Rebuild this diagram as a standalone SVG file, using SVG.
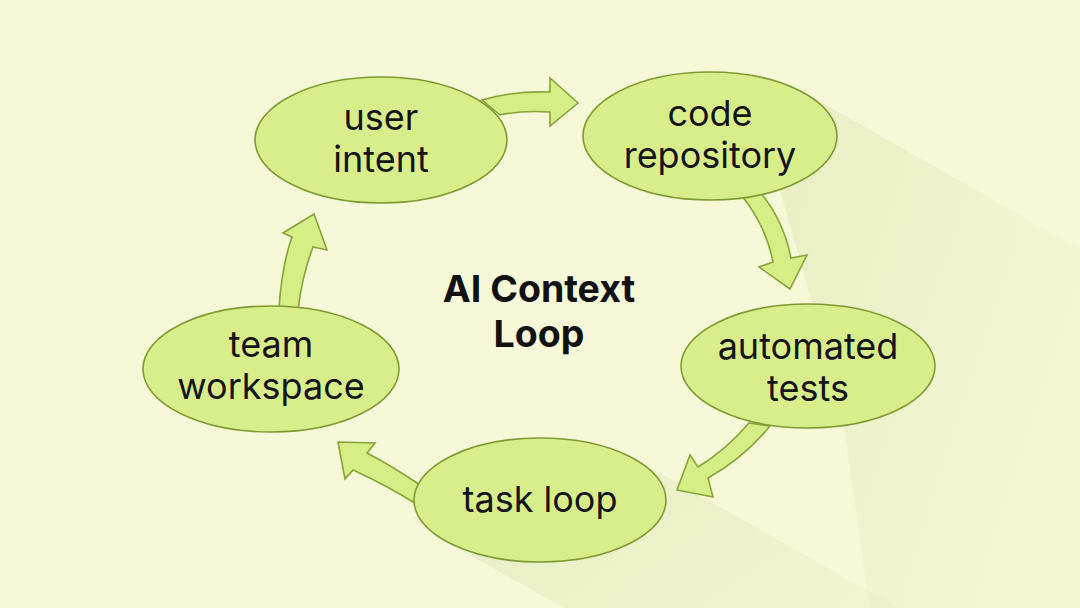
<svg xmlns="http://www.w3.org/2000/svg" width="1080" height="608" viewBox="0 0 1080 608">
  <defs>
    <style>
      .bg { fill: #f6f8d7; }
      .node ellipse { fill: #d8ee8a; stroke: #7e9a32; stroke-width: 1.6; }
      .label { font-family: Inter, "Noto Sans", "Liberation Sans", sans-serif; font-size: 36px; fill: #141414; text-anchor: middle; }
      .title { font-family: Inter, "Liberation Sans", sans-serif; font-size: 37.5px; font-weight: 700; fill: #111111; text-anchor: middle; }
      .arrow { fill: #d5ee86; stroke: #86a43a; stroke-width: 1.6; stroke-linejoin: miter; }
      .shadow { fill: url(#shadeGrad); }
    </style>
    <linearGradient id="shadeGrad" x1="0" y1="0" x2="1" y2="0.56" gradientUnits="objectBoundingBox">
      <stop offset="0" stop-color="#d3dea5" stop-opacity="0.38"/>
      <stop offset="1" stop-color="#d3dea5" stop-opacity="0.04"/>
    </linearGradient>
  </defs>

  <rect class="bg" x="0" y="0" width="1080" height="608"/>

  <g id="shadows">
    <polygon class="shadow" points="803,92 1080,249 1080,608 870,608 840,400 780,190"/>
    <polygon class="shadow" points="635,459 1080,710 564,608 445,541"/>
  </g>

  <g id="connectors">
    <path class="arrow" d="M482,100 Q512,91 550,92 L550,78 L578,103 L550,126 L550,112 Q522,110 500,115 Z"/>
    <path class="arrow" d="M742,196 Q766,226 773,262 L759,267 L790,289 L807,255 L791,258 Q784,222 761,193 Z"/>
    <path class="arrow" d="M749,423 Q726,450 698,467 L690,455 L677,490 L713,497 L708,478 Q744,458 770,426 Z"/>
    <path class="arrow" d="M420,485 Q392,466 367,453 L375,443 L338,442 L345,479 L353,470 Q386,485 418,505 Z"/>
    <path class="arrow" d="M279,308 Q282,265 292,237 L283,233 L314,214 L327,250 L313,247 Q302,276 298,310 Z"/>
  </g>

  <g id="node-user-intent" class="node">
    <ellipse cx="381" cy="140" rx="126" ry="63"/>
    <text class="label" x="381" y="130">user</text>
    <text class="label" x="381" y="172">intent</text>
  </g>

  <g id="node-code-repository" class="node">
    <ellipse cx="710" cy="136" rx="127" ry="64"/>
    <text class="label" x="710" y="126">code</text>
    <text class="label" x="710" y="168">repository</text>
  </g>

  <g id="node-automated-tests" class="node">
    <ellipse cx="808" cy="366" rx="127" ry="62"/>
    <text class="label" x="808" y="359">automated</text>
    <text class="label" x="808" y="401">tests</text>
  </g>

  <g id="node-task-loop" class="node">
    <ellipse cx="540" cy="500" rx="126" ry="62"/>
    <text class="label" x="540" y="512">task loop</text>
  </g>

  <g id="node-team-workspace" class="node">
    <ellipse cx="271" cy="369" rx="128" ry="63"/>
    <text class="label" x="271" y="357">team</text>
    <text class="label" x="271" y="399">workspace</text>
  </g>

  <g id="title">
    <text class="title" x="539" y="302">AI Context</text>
    <text class="title" x="539" y="347">Loop</text>
  </g>
</svg>
